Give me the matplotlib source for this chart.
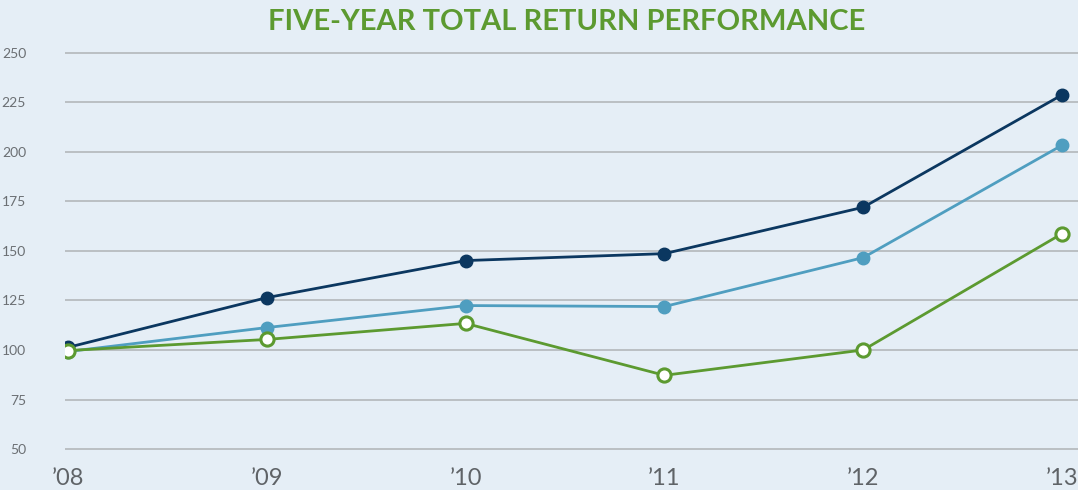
import numpy as np
import matplotlib
matplotlib.use("Agg")
import matplotlib.pyplot as plt

# data
years = ["\u201908", "\u201909", "\u201910", "\u201911", "\u201912", "\u201913"]
navy_vals = [101.3, 126.4, 145.1, 148.6, 172.0, 228.7]
blue_vals = [99.2, 111.3, 122.4, 121.9, 146.6, 203.3]
green_vals = [99.7, 105.3, 113.4, 87.2, 100.0, 158.7]
y_ticks = [50, 75, 100, 125, 150, 175, 200, 225, 250]

bg = "#e5eef6"
navy = "#0b3760"
blue = "#4f9ec0"
green = "#5c9a30"

plt.rcParams['font.family'] = ['Lato', 'DejaVu Sans']

fig = plt.figure(figsize=(10.78, 4.90), dpi=100, facecolor=bg)
ax = fig.add_axes([65/1078, 1 - 455/490, 1 - 65/1078, (455 - 48.7)/490])
ax.set_facecolor(bg)

x = np.arange(len(years))
ax.plot(x, blue_vals, color=blue, lw=2.0, marker='o', ms=9, mec=blue, mfc=blue, zorder=3)
ax.plot(x, navy_vals, color=navy, lw=2.0, marker='o', ms=9, mec=navy, mfc=navy, zorder=4)
ax.plot(x, green_vals, color=green, lw=2.0, marker='o', ms=9.5, mec=green, mfc='white', mew=2.2, zorder=5)

ax.set_xlim(-0.015, 5.08)
ax.set_ylim(47, 252)
ax.set_yticks(y_ticks)
ax.set_xticks(x)
ax.set_xticklabels(years)
ax.yaxis.grid(True, color="#b3b7bb", lw=1.2)
ax.set_axisbelow(True)
for s in ax.spines.values():
    s.set_visible(False)
ax.tick_params(axis='y', length=0, pad=28, labelsize=10, labelcolor="#6b6f73")
ax.tick_params(axis='x', length=0, pad=9, labelsize=17, labelcolor="#5f6367")

fig.text(567/1078, 1 - 22/490, "FIVE-YEAR TOTAL RETURN PERFORMANCE", ha='center', va='center',
         color=green, fontsize=21, fontweight='bold')

fig.savefig("out.png", dpi=100, facecolor=bg)
